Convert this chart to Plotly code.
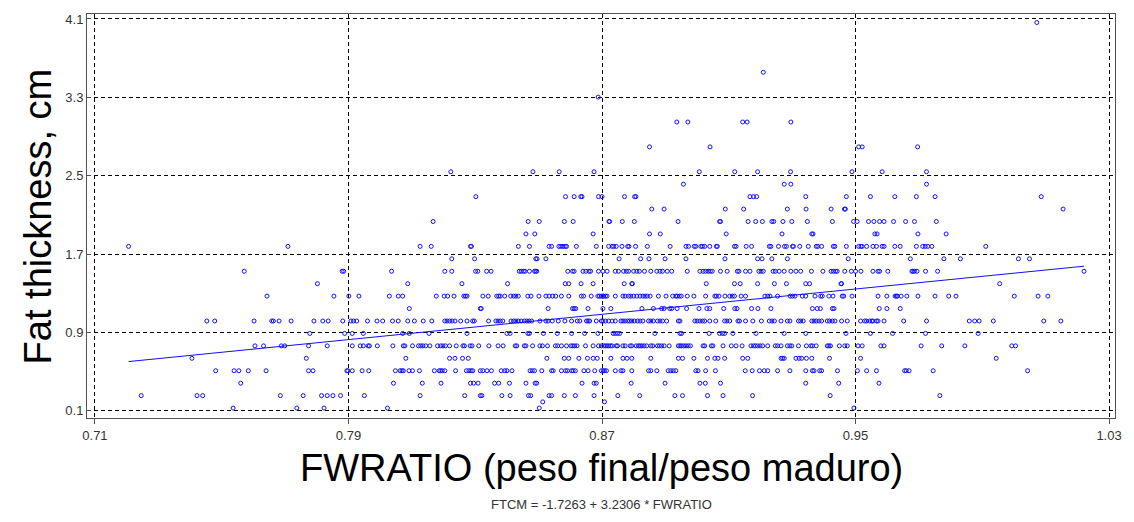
import plotly.graph_objects as go

# FWRATIO values read per fat-thickness level (cm)
fw_at_4064 = [1.0072]
fw_at_3556 = [0.9209]
fw_at_3302 = [0.8688]
fw_at_3048 = [0.8936, 0.8971, 0.9144, 0.9158, 0.9296]
fw_at_2794 = [0.8850, 0.9041, 0.9510, 0.9521, 0.9696]
fw_at_2540 = [0.8223, 0.8482, 0.8565, 0.8675, 0.9007, 0.9119, 0.9191, 0.9295, 0.9489, 0.9584, 0.9724]
fw_at_2413 = [0.8957, 0.9275, 0.9296, 0.9724]
fw_at_2286 = [0.8302, 0.8585, 0.8612, 0.8633, 0.8637, 0.8689, 0.8700, 0.8771, 0.8803, 0.8807, 0.9167,
              0.9178, 0.9188, 0.9343, 0.9471, 0.9547, 0.9624, 0.9692, 0.9751, 1.0086]
fw_at_2159 = [0.8857, 0.8896, 0.9089, 0.9147, 0.9285, 0.9344, 0.9423, 0.9465, 0.9468, 1.0155]
fw_at_2032 = [0.8167, 0.8467, 0.8502, 0.8581, 0.8609, 0.8722, 0.8724, 0.8764, 0.8802, 0.8940, 0.9071,
              0.9074, 0.9161, 0.9185, 0.9206, 0.9236, 0.9242, 0.9271, 0.9299, 0.9348, 0.9427, 0.9494,
              0.9505, 0.9541, 0.9558, 0.9576, 0.9590, 0.9620, 0.9658, 0.9686, 0.9755]
fw_at_1905 = [0.8460, 0.8488, 0.8672, 0.8850, 0.8884, 0.9092, 0.9268, 0.9362, 0.9366, 0.9561, 0.9568,
              0.9697, 0.9786]
fw_at_1778 = [0.7206, 0.7709, 0.8126, 0.8161, 0.8285, 0.8288, 0.8436, 0.8471, 0.8533, 0.8541, 0.8564,
              0.8570, 0.8577, 0.8584, 0.8588, 0.8619, 0.8682, 0.8721, 0.8732, 0.8737, 0.8745, 0.8763,
              0.8781, 0.8785, 0.8806, 0.8843, 0.8915, 0.8965, 0.8973, 0.8991, 0.8996, 0.9012, 0.9017,
              0.9024, 0.9040, 0.9061, 0.9064, 0.9118, 0.9123, 0.9155, 0.9172, 0.9228, 0.9233, 0.9257,
              0.9276, 0.9282, 0.9301, 0.9304, 0.9324, 0.9351, 0.9376, 0.9381, 0.9393, 0.9430, 0.9435,
              0.9471, 0.9510, 0.9517, 0.9521, 0.9535, 0.9555, 0.9566, 0.9584, 0.9590, 0.9624, 0.9641,
              0.9692, 0.9712, 0.9720, 0.9728, 0.9741, 0.9911]
fw_at_1651 = [0.8226, 0.8298, 0.8491, 0.8495, 0.8523, 0.8754, 0.8822, 0.8848, 0.8899, 0.8965, 0.9088,
              0.9191, 0.9205, 0.9236, 0.9285, 0.9477, 0.9673, 0.9779, 0.9831, 1.0014, 1.0049]
fw_at_1524 = [0.7571, 0.7880, 0.7885, 0.8036, 0.8204, 0.8226, 0.8301, 0.8308, 0.8336, 0.8350, 0.8439,
              0.8445, 0.8452, 0.8457, 0.8471, 0.8487, 0.8491, 0.8494, 0.8592, 0.8607, 0.8612, 0.8640,
              0.8649, 0.8659, 0.8664, 0.8689, 0.8703, 0.8716, 0.8742, 0.8752, 0.8768, 0.8777, 0.8784,
              0.8800, 0.8810, 0.8818, 0.8834, 0.8854, 0.8873, 0.8883, 0.8891, 0.8906, 0.8920, 0.8969,
              0.9009, 0.9019, 0.9027, 0.9035, 0.9042, 0.9048, 0.9074, 0.9095, 0.9127, 0.9132, 0.9153,
              0.9167, 0.9195, 0.9202, 0.9209, 0.9240, 0.9247, 0.9259, 0.9275, 0.9296, 0.9312, 0.9327,
              0.9361, 0.9397, 0.9423, 0.9430, 0.9437, 0.9442, 0.9466, 0.9487, 0.9500, 0.9517, 0.9555,
              0.9571, 0.9576, 0.9602, 0.9678, 0.9681, 0.9686, 0.9694, 0.9721, 0.9759, 1.0221]
fw_at_1397 = [0.7802, 0.8087, 0.8258, 0.8402, 0.8584, 0.8595, 0.8634, 0.8672, 0.8770, 0.8794, 0.8796,
              0.9029, 0.9118, 0.9136, 0.9191, 0.9244, 0.9282, 0.9343, 0.9355, 0.9454, 0.9456, 0.9955]
fw_at_1270 = [0.7643, 0.7854, 0.7901, 0.7933, 0.8029, 0.8057, 0.8071, 0.8177, 0.8202, 0.8213, 0.8233,
              0.8264, 0.8269, 0.8274, 0.8324, 0.8341, 0.8368, 0.8374, 0.8379, 0.8393, 0.8412, 0.8421,
              0.8428, 0.8436, 0.8466, 0.8476, 0.8501, 0.8523, 0.8533, 0.8544, 0.8554, 0.8572, 0.8595,
              0.8635, 0.8642, 0.8666, 0.8687, 0.8692, 0.8698, 0.8703, 0.8705, 0.8711, 0.8716, 0.8742,
              0.8766, 0.8773, 0.8784, 0.8791, 0.8800, 0.8810, 0.8820, 0.8829, 0.8836, 0.8843, 0.8852,
              0.8878, 0.8902, 0.8923, 0.8933, 0.8937, 0.8944, 0.8950, 0.8969, 0.8990, 0.9027, 0.9056,
              0.9061, 0.9069, 0.9088, 0.9103, 0.9111, 0.9118, 0.9139, 0.9153, 0.9214, 0.9223, 0.9230,
              0.9254, 0.9294, 0.9301, 0.9309, 0.9332, 0.9343, 0.9372, 0.9390, 0.9395, 0.9416, 0.9429,
              0.9458, 0.9463, 0.9489, 0.9571, 0.9599, 0.9625, 0.9629, 0.9632, 0.9644, 0.9662, 0.9697,
              0.9751, 0.9794, 0.9817, 1.0001, 1.0076, 1.0107]
fw_at_1143 = [0.8092, 0.8316, 0.8319, 0.8530, 0.8607, 0.8612, 0.8617, 0.8656, 0.8703, 0.8728, 0.8826,
              0.8862, 0.8888, 0.8896, 0.8914, 0.8920, 0.8937, 0.8967, 0.9006, 0.9031, 0.9040, 0.9084,
              0.9119, 0.9126, 0.9172, 0.9192, 0.9233, 0.9364, 0.9379, 0.9389, 0.9427, 0.9432, 0.9575,
              0.9599, 0.9641]
fw_at_1016 = [0.7453, 0.7478, 0.7602, 0.7658, 0.7663, 0.7681, 0.7719, 0.7791, 0.7819, 0.7836, 0.7882,
              0.7908, 0.7916, 0.7926, 0.7960, 0.7990, 0.8008, 0.8039, 0.8057, 0.8087, 0.8108, 0.8136,
              0.8163, 0.8204, 0.8211, 0.8219, 0.8227, 0.8236, 0.8254, 0.8274, 0.8292, 0.8297, 0.8342,
              0.8365, 0.8372, 0.8379, 0.8387, 0.8413, 0.8421, 0.8428, 0.8436, 0.8445, 0.8455, 0.8463,
              0.8470, 0.8478, 0.8504, 0.8523, 0.8530, 0.8543, 0.8562, 0.8583, 0.8604, 0.8622, 0.8630,
              0.8651, 0.8656, 0.8661, 0.8682, 0.8698, 0.8703, 0.8711, 0.8721, 0.8732, 0.8742, 0.8760,
              0.8766, 0.8773, 0.8781, 0.8787, 0.8794, 0.8802, 0.8812, 0.8820, 0.8829, 0.8847, 0.8854,
              0.8862, 0.8875, 0.8883, 0.8891, 0.8904, 0.8941, 0.8946, 0.8993, 0.9000, 0.9009, 0.9017,
              0.9024, 0.9040, 0.9059, 0.9087, 0.9094, 0.9103, 0.9129, 0.9134, 0.9153, 0.9176, 0.9203,
              0.9228, 0.9236, 0.9244, 0.9265, 0.9285, 0.9293, 0.9320, 0.9327, 0.9335, 0.9362, 0.9369,
              0.9376, 0.9385, 0.9393, 0.9411, 0.9418, 0.9427, 0.9435, 0.9456, 0.9474, 0.9516, 0.9529,
              0.9535, 0.9545, 0.9552, 0.9555, 0.9566, 0.9571, 0.9590, 0.9652, 0.9724, 0.9859, 0.9876,
              0.9890, 0.9935, 1.0094, 1.0148]
fw_at_0889 = [0.7778, 0.7888, 0.7912, 0.7947, 0.8071, 0.8092, 0.8154, 0.8274, 0.8400, 0.8410, 0.8466,
              0.8471, 0.8515, 0.8559, 0.8604, 0.8645, 0.8687, 0.8735, 0.8742, 0.8749, 0.8756, 0.8867,
              0.8946, 0.8951, 0.9038, 0.9071, 0.9080, 0.9087, 0.9113, 0.9186, 0.9275, 0.9343, 0.9470,
              0.9547, 0.9617, 0.9721, 0.9887]
fw_at_0762 = [0.7605, 0.7632, 0.7688, 0.7699, 0.7774, 0.7833, 0.7912, 0.7937, 0.7947, 0.7962, 0.7966,
              0.7991, 0.8040, 0.8073, 0.8078, 0.8102, 0.8121, 0.8128, 0.8135, 0.8144, 0.8157, 0.8181,
              0.8191, 0.8198, 0.8206, 0.8219, 0.8240, 0.8261, 0.8266, 0.8284, 0.8290, 0.8311, 0.8343,
              0.8372, 0.8388, 0.8426, 0.8431, 0.8455, 0.8460, 0.8481, 0.8504, 0.8512, 0.8528, 0.8553,
              0.8560, 0.8572, 0.8588, 0.8602, 0.8608, 0.8614, 0.8621, 0.8648, 0.8672, 0.8689, 0.8698,
              0.8705, 0.8711, 0.8716, 0.8721, 0.8727, 0.8732, 0.8745, 0.8749, 0.8766, 0.8773, 0.8789,
              0.8794, 0.8808, 0.8815, 0.8820, 0.8826, 0.8833, 0.8841, 0.8854, 0.8860, 0.8875, 0.8881,
              0.8888, 0.8896, 0.8912, 0.8941, 0.8946, 0.8951, 0.8958, 0.8965, 0.8972, 0.8979, 0.9019,
              0.9024, 0.9045, 0.9050, 0.9082, 0.9108, 0.9123, 0.9142, 0.9170, 0.9178, 0.9184, 0.9191,
              0.9199, 0.9207, 0.9223, 0.9247, 0.9254, 0.9265, 0.9285, 0.9293, 0.9299, 0.9320, 0.9345,
              0.9359, 0.9364, 0.9376, 0.9411, 0.9416, 0.9421, 0.9449, 0.9466, 0.9474, 0.9508, 0.9521,
              0.9580, 0.9590, 0.9707, 0.9772, 0.9845, 0.9993, 1.0005]
fw_at_0635 = [0.7406, 0.7767, 0.8081, 0.8219, 0.8236, 0.8260, 0.8278, 0.8526, 0.8581, 0.8595, 0.8627,
              0.8654, 0.8672, 0.8685, 0.8728, 0.8766, 0.8779, 0.8794, 0.8854, 0.8941, 0.8954, 0.8990,
              0.9033, 0.9056, 0.9066, 0.9087, 0.9144, 0.9160, 0.9265, 0.9270, 0.9275, 0.9312, 0.9322,
              0.9330, 0.9345, 0.9362, 0.9418, 0.9516, 0.9944]
fw_at_0508 = [0.7481, 0.7539, 0.7554, 0.7584, 0.7640, 0.7774, 0.7788, 0.7895, 0.7898, 0.7912, 0.7943,
              0.7964, 0.8048, 0.8063, 0.8069, 0.8073, 0.8091, 0.8102, 0.8124, 0.8171, 0.8186, 0.8191,
              0.8196, 0.8204, 0.8238, 0.8272, 0.8280, 0.8287, 0.8292, 0.8316, 0.8324, 0.8337, 0.8351,
              0.8382, 0.8393, 0.8400, 0.8416, 0.8473, 0.8480, 0.8487, 0.8510, 0.8541, 0.8546, 0.8572,
              0.8585, 0.8591, 0.8604, 0.8609, 0.8616, 0.8643, 0.8656, 0.8677, 0.8698, 0.8704, 0.8708,
              0.8714, 0.8742, 0.8760, 0.8766, 0.8794, 0.8847, 0.8854, 0.8873, 0.8909, 0.8917, 0.8925,
              0.8933, 0.8996, 0.9003, 0.9027, 0.9058, 0.9152, 0.9174, 0.9197, 0.9212, 0.9223, 0.9254,
              0.9293, 0.9343, 0.9364, 0.9369, 0.9387, 0.9393, 0.9443, 0.9506, 0.9535, 0.9566, 0.9655,
              0.9660, 0.9669, 0.9745, 1.0043]
fw_at_0381 = [0.7560, 0.8042, 0.8133, 0.8192, 0.8285, 0.8295, 0.8309, 0.8361, 0.8374, 0.8408, 0.8460,
              0.8489, 0.8494, 0.8637, 0.8675, 0.8682, 0.8792, 0.8899, 0.9009, 0.9026, 0.9074, 0.9343,
              0.9447, 0.9574]
fw_at_0254 = [0.7246, 0.7422, 0.7440, 0.7685, 0.7757, 0.7815, 0.7833, 0.7851, 0.7875, 0.7950, 0.8126,
              0.8267, 0.8316, 0.8321, 0.8384, 0.8410, 0.8468, 0.8475, 0.8533, 0.8541, 0.8581, 0.8616,
              0.8675, 0.8750, 0.8819, 0.8930, 0.8954, 0.9033, 0.9082, 0.9175, 0.9420, 0.9766]
fw_at_0190 = [0.8513, 0.8708]
fw_at_0127 = [0.7536, 0.7737, 0.7823, 0.8023, 0.8502, 0.9495]

fat_levels = [4.064, 3.556, 3.302, 3.048, 2.794, 2.540, 2.413, 2.286, 2.159, 2.032, 1.905, 1.778,
              1.651, 1.524, 1.397, 1.270, 1.143, 1.016, 0.889, 0.762, 0.635, 0.508, 0.381, 0.254,
              0.190, 0.127]
fw_lists = [fw_at_4064, fw_at_3556, fw_at_3302, fw_at_3048, fw_at_2794, fw_at_2540, fw_at_2413,
            fw_at_2286, fw_at_2159, fw_at_2032, fw_at_1905, fw_at_1778, fw_at_1651, fw_at_1524,
            fw_at_1397, fw_at_1270, fw_at_1143, fw_at_1016, fw_at_0889, fw_at_0762, fw_at_0635,
            fw_at_0508, fw_at_0381, fw_at_0254, fw_at_0190, fw_at_0127]

# regression: FTCM = -1.7263 + 3.2306 * FWRATIO
intercept = -1.7263
slope = 3.2306

x_ticks = [0.71, 0.79, 0.87, 0.95, 1.03]
y_ticks = [0.1, 0.9, 1.7, 2.5, 3.3, 4.1]

xs, ys = [], []
for lvl, lst in zip(fat_levels, fw_lists):
    xs.extend(lst)
    ys.extend([lvl] * len(lst))

x_min, x_max = min(xs), max(xs)
line_x = [x_min, x_max]
line_y = [intercept + slope * v for v in line_x]

FONT = "Liberation Sans, Arial, sans-serif"

fig = go.Figure()
fig.add_trace(go.Scatter(
    x=xs, y=ys, mode="markers",
    marker=dict(symbol="circle-open", size=4, color="#1010ff", line=dict(width=1, color="#1010ff")),
    showlegend=False, hoverinfo="x+y"))
fig.add_trace(go.Scatter(
    x=line_x, y=line_y, mode="lines",
    line=dict(color="#1010ff", width=1), showlegend=False))

axis_common = dict(
    showgrid=True, gridcolor="black", gridwidth=1, griddash="4px,3px",
    showline=True, linecolor="#505050", linewidth=1, mirror=True,
    tickcolor="#505050",
    tickfont=dict(family=FONT, size=13, color="#333333"),
    zeroline=False,
)

fig.update_layout(
    width=1134, height=522,
    margin=dict(l=87, r=12, t=14, b=104),
    paper_bgcolor="white", plot_bgcolor="white",
    font=dict(family=FONT),
    xaxis=dict(range=[0.70749, 1.03188], tickvals=x_ticks, ticks="outside", ticklen=5,
               ticktext=[f"{v:.2f}" for v in x_ticks], **axis_common),
    yaxis=dict(range=[0.0254, 4.151], tickvals=y_ticks, ticks="inside", ticklen=4,
               ticktext=[f"{v:.1f}" for v in y_ticks], **axis_common),
    annotations=[
        dict(text="FWRATIO (peso final/peso maduro)", xref="paper", yref="paper",
             x=0.5, y=-0.1238, xanchor="center", yanchor="middle", showarrow=False,
             font=dict(family=FONT, size=38, color="black")),
        dict(text="FTCM = -1.7263 + 3.2306 * FWRATIO", xref="paper", yref="paper",
             x=0.5, y=-0.2153, xanchor="center", yanchor="middle", showarrow=False,
             font=dict(family=FONT, size=13, color="#333333")),
        dict(text="Fat thickness, cm", xref="paper", yref="paper",
             x=-0.0473, y=0.5, xanchor="center", yanchor="middle", showarrow=False,
             textangle=-90, font=dict(family=FONT, size=38, color="black")),
    ],
)

fig.write_html("out.html")
